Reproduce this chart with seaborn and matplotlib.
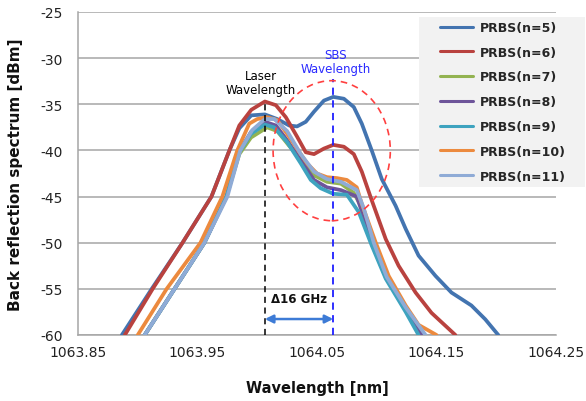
import numpy as np
import pandas as pd
import matplotlib
matplotlib.use("Agg")
import matplotlib.pyplot as plt
from matplotlib.patches import Ellipse, Rectangle
import seaborn as sns

# ---- data ----
labels = ["PRBS(n=5)", "PRBS(n=6)", "PRBS(n=7)", "PRBS(n=8)",
          "PRBS(n=9)", "PRBS(n=10)", "PRBS(n=11)"]
colors = ["#4374b0", "#b9423f", "#93b351", "#6e559a", "#3ea3bf", "#ec8a3e", "#8fabd6"]

wl_n5 = [1063.8867, 1063.9117, 1063.9375, 1063.9617, 1063.9767, 1063.9850, 1063.9950,
         1064.0064, 1064.0167, 1064.0267, 1064.0333, 1064.0406, 1064.0475,
         1064.0558, 1064.0636, 1064.0725, 1064.0808, 1064.0875, 1064.0958, 1064.1042,
         1064.1158, 1064.1242, 1064.1350, 1064.1492, 1064.1625, 1064.1792, 1064.1908,
         1064.2017]
db_n5 = [-60, -55, -50, -45, -40, -37.6, -36.2, -36.1, -36.6, -37.3, -37.4,
         -36.9, -35.8, -34.6, -34.2, -34.4, -35.3, -37.1, -40, -43.1, -46, -48.5, -51.4,
         -53.6, -55.4, -56.8, -58.3, -60]

wl_n6 = [1063.8892, 1063.9125, 1063.9375, 1063.9617, 1063.9767, 1063.9850, 1063.9950,
         1064.0064, 1064.0156, 1064.0239, 1064.0333, 1064.0406, 1064.0475,
         1064.0558, 1064.0636, 1064.0725, 1064.0808, 1064.0875, 1064.0958, 1064.1075,
         1064.1183, 1064.1325, 1064.1458, 1064.1658]
db_n6 = [-60, -55, -50, -45, -40, -37.3, -35.6, -34.7, -35.1, -36.4, -38.5, -40.2,
         -40.4, -39.8, -39.4, -39.6, -40.4, -42.3, -45.4, -49.6, -52.5, -55.4, -57.6, -60]

wl_n7 = [1063.9058, 1063.9308, 1063.9558, 1063.9742, 1063.9850, 1063.9948, 1064.0083,
         1064.0167, 1064.0267, 1064.0364, 1064.0475, 1064.0583, 1064.0700, 1064.0808,
         1064.0875, 1064.0958, 1064.1075, 1064.1242, 1064.1392]
db_n7 = [-60, -55, -50, -45, -40.4, -38.6, -37.5, -37.9, -39.5, -40.9, -42.7, -43.4,
         -43.6, -44.6, -46.2, -49.6, -53.4, -57.2, -60]

wl_n8 = [1063.9058, 1063.9308, 1063.9558, 1063.9742, 1063.9850, 1063.9948, 1064.0064,
         1064.0156, 1064.0250, 1064.0364, 1064.0475, 1064.0583, 1064.0700, 1064.0833,
         1064.0875, 1064.0958, 1064.1075, 1064.1242, 1064.1375]
db_n8 = [-60, -55, -50, -45, -40.1, -38, -36.9, -37.3, -38.9, -41.1, -43.2, -44,
         -44.3, -45, -46.6, -50.1, -53.7, -57.3, -60]

wl_n9 = [1063.9058, 1063.9308, 1063.9558, 1063.9742, 1063.9850, 1063.9948, 1064.0064,
         1064.0142, 1064.0250, 1064.0364, 1064.0448, 1064.0531, 1064.0636, 1064.0750,
         1064.0850, 1064.0958, 1064.1075, 1064.1242, 1064.1350]
db_n9 = [-60, -55, -50, -45, -40.2, -38.2, -37.2, -37.5, -39.1, -41.4, -43.2, -44.1,
         -44.7, -44.8, -46.7, -50.3, -53.9, -57.5, -60]

wl_n10 = [1063.9000, 1063.9242, 1063.9525, 1063.9708, 1063.9833, 1063.9933, 1064.0000,
          1064.0083, 1064.0167, 1064.0250, 1064.0333, 1064.0417, 1064.0500, 1064.0583,
          1064.0667, 1064.0750, 1064.0833, 1064.0875, 1064.0992, 1064.1100, 1064.1242,
          1064.1350, 1064.1500]
db_n10 = [-60, -55, -50, -45, -40, -37.1, -36.6, -36.4, -36.7, -38.2, -39.8, -41.4,
          -42.5, -42.9, -43.0, -43.2, -44, -45.8, -50, -53.6, -56.8, -58.9, -60]

wl_n11 = [1063.9058, 1063.9308, 1063.9558, 1063.9750, 1063.9858, 1063.9958, 1064.0064,
          1064.0142, 1064.0250, 1064.0364, 1064.0475, 1064.0583, 1064.0700, 1064.0833,
          1064.0892, 1064.0975, 1064.1083, 1064.1242, 1064.1408]
db_n11 = [-60, -55, -50, -45, -40, -37.8, -36.6, -36.6, -37.9, -40.4, -42.3, -43.1,
          -43.4, -44.3, -46.3, -50, -53.7, -57, -60]

x_ticks = [1063.85, 1063.95, 1064.05, 1064.15, 1064.25]
y_ticks = [-60, -55, -50, -45, -40, -35, -30, -25]

laser_wl = 1064.0064
sbs_wl = 1064.0636

# ---- build long table ----
series_wl = [wl_n5, wl_n6, wl_n7, wl_n8, wl_n9, wl_n10, wl_n11]
series_db = [db_n5, db_n6, db_n7, db_n8, db_n9, db_n10, db_n11]
frames = []
for lab, w, d in zip(labels, series_wl, series_db):
    frames.append(pd.DataFrame({"wl": w, "dbm": d, "series": lab}))
df = pd.concat(frames, ignore_index=True)

sns.set_style("white")
plt.rcParams["font.family"] = ["DejaVu Sans"]

fig = plt.figure(figsize=(5.86, 4.02), dpi=100)
ax = fig.add_axes([0.1331, 0.1642, 0.8157, 0.8035])

sns.lineplot(data=df, x="wl", y="dbm", hue="series", hue_order=labels,
             palette=dict(zip(labels, colors)), sort=False, estimator=None,
             units="series", lw=2.7, ax=ax, legend=True, zorder=3,
             solid_joinstyle="round", solid_capstyle="round")

ax.set_xlim(1063.85, 1064.25)
ax.set_ylim(-60, -25)
ax.set_xticks(x_ticks)
ax.set_xticklabels([f"{v:.2f}" for v in x_ticks])
ax.set_yticks(y_ticks)
ax.set_yticklabels([str(v) for v in y_ticks])
ax.tick_params(axis="both", length=0, labelsize=10, colors="#222222")
ax.tick_params(axis="y", pad=11)
ax.tick_params(axis="x", pad=7)

ax.yaxis.grid(True, color="#a6a6a6", lw=1.1)
ax.xaxis.grid(False)
ax.set_axisbelow(True)
for s in ["top", "right"]:
    ax.spines[s].set_visible(False)
for s in ["left", "bottom"]:
    ax.spines[s].set_color("#a6a6a6")
    ax.spines[s].set_linewidth(1.1)

ax.set_xlabel("Wavelength [nm]", fontsize=10.5, fontweight="bold", color="#111111")
ax.set_ylabel("Back reflection spectrum [dBm]", fontsize=11, fontweight="bold",
              color="#111111")
ax.yaxis.set_label_coords(-0.115, 0.5)
ax.xaxis.set_label_coords(0.5, -0.139)

# annotations
ax.vlines(laser_wl, -60, -34.6, colors="black", linestyles=(0, (4, 3)), lw=1.1, zorder=4)
ax.vlines(sbs_wl, -60, -32.3, colors="#1f1fff", linestyles=(0, (4, 3)), lw=1.3, zorder=4)
ax.text(1064.0033, -32.6, "Laser\nWavelength", ha="center", va="center", fontsize=8.5,
        color="black", linespacing=1.1, zorder=5)
ax.text(1064.0655, -30.4, "SBS\nWavelength", ha="center", va="center", fontsize=8.5,
        color="#2a2aff", linespacing=1.1, zorder=5)
ell = Ellipse((1064.0623, -40.03), 0.0981, 15.17, fill=False, edgecolor="#ff4040",
              linestyle=(0, (4, 3)), lw=1.2, zorder=5)
ax.add_patch(ell)
ax.annotate("", xy=(laser_wl, -58.27), xytext=(sbs_wl, -58.27),
            arrowprops=dict(arrowstyle="<|-|>", color="#3d7bd6", lw=1.8,
                            mutation_scale=12, shrinkA=0, shrinkB=0), zorder=5)
ax.text(1064.035, -56.1, "Δ16 GHz", ha="center", va="center", fontsize=8.5,
        fontweight="bold", color="#111111", zorder=5)

# legend with its own light-grey panel
fig.patches.append(Rectangle((419 / 586, 1 - 188 / 402), 166 / 586, 170 / 402,
                             transform=fig.transFigure, facecolor="#f2f2f2",
                             edgecolor="none", zorder=2))
handles, labs = ax.get_legend_handles_labels()
leg = fig.legend(handles, labs, loc="upper left", bbox_to_anchor=(440 / 586, 1 - 22 / 402),
                 frameon=False, prop=dict(size=9, weight="bold"), handlelength=2.64,
                 handletextpad=0.56, labelspacing=0.94, borderpad=0, borderaxespad=0)
leg.set_zorder(6)
for h in leg.get_lines():
    h.set_linewidth(2.2)
if ax.get_legend() is not None:
    ax.get_legend().remove()

fig.savefig("out.png", dpi=100)
